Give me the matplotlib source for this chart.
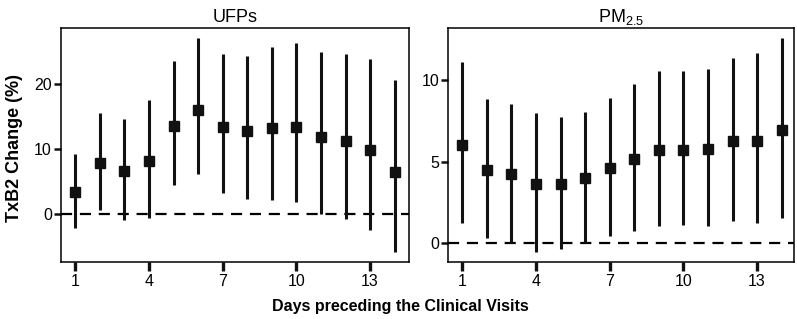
import matplotlib

matplotlib.use("Agg")
import matplotlib.pyplot as plt
import numpy as np

plt.rcParams["font.family"] = ["Liberation Sans", "DejaVu Sans"]
plt.rcParams["mathtext.fontset"] = "custom"
plt.rcParams["mathtext.rm"] = "Liberation Sans"
plt.rcParams["mathtext.it"] = "Liberation Sans"

days = np.arange(1, 15)

# UFPs: estimate with 95% CI
ufp_est = [3.35, 7.8, 6.6, 8.1, 13.5, 16.1, 13.35, 12.8, 13.3, 13.45, 11.9, 11.2, 9.85, 6.5]
ufp_lo = [-2.2, 0.57, -0.9, -0.6, 4.4, 6.2, 3.25, 2.3, 2.2, 1.9, 0.0, -0.8, -2.5, -5.8]
ufp_hi = [9.2, 15.6, 14.7, 17.6, 23.6, 27.2, 24.6, 24.4, 25.7, 26.4, 25.0, 24.6, 23.9, 20.6]

# PM2.5: estimate with 95% CI
pm_est = [6.04, 4.5, 4.25, 3.65, 3.65, 3.98, 4.6, 5.15, 5.73, 5.75, 5.79, 6.26, 6.3, 6.96]
pm_lo = [1.25, 0.29, 0.0, -0.57, -0.35, 0.0, 0.45, 0.72, 1.05, 1.1, 1.07, 1.38, 1.2, 1.54]
pm_hi = [11.15, 8.85, 8.56, 7.99, 7.78, 8.07, 8.9, 9.77, 10.6, 10.6, 10.7, 11.4, 11.7, 12.6]

panels = [
    ("UFPs", ufp_est, ufp_lo, ufp_hi, (-7.4, 28.6), [0, 10, 20], (0.42, 14.58)),
    ("PM$_{2.5}$", pm_est, pm_lo, pm_hi, (-1.17, 13.2), [0, 5, 10], (0.43, 14.5)),
]
positions = [[0.0765, 0.1787, 0.4366, 0.732], [0.5625, 0.1787, 0.4337, 0.732]]

fig = plt.figure(figsize=(7.97, 3.19), dpi=100)
for (title, est, lo, hi, ylim, yticks, xlim), pos in zip(panels, positions):
    ax = fig.add_axes(pos)
    est = np.array(est)
    lo = np.array(lo)
    hi = np.array(hi)
    ax.axhline(0, color="black", lw=1.6, ls=(0, (5, 3.5)), zorder=1)
    ax.vlines(days, lo, hi, color="#111111", lw=2.2, zorder=2)
    ax.plot(days, est, "s", color="#111111", ms=7.5, zorder=3)
    ax.set_xlim(*xlim)
    ax.set_ylim(*ylim)
    ax.set_xticks([1, 4, 7, 10, 13])
    ax.set_yticks(yticks)
    ax.tick_params(axis="x", labelsize=11.5, length=6.5, width=2.4, color="#111111", pad=2)
    ax.tick_params(axis="y", labelsize=11.5, length=5, width=1.8, color="#111111", pad=1.5)
    for s in ax.spines.values():
        s.set_linewidth(1.1)
    ax.set_title(title, fontsize=13, pad=5)

fig.text(0.502, 0.04, "Days preceding the Clinical Visits", ha="center", va="center",
         fontsize=11.5, fontweight="bold")
fig.text(0.018, 0.536, "TxB2 Change (%)", ha="center", va="center", rotation=90,
         fontsize=13, fontweight="bold")

fig.savefig("out.png", dpi=100)
